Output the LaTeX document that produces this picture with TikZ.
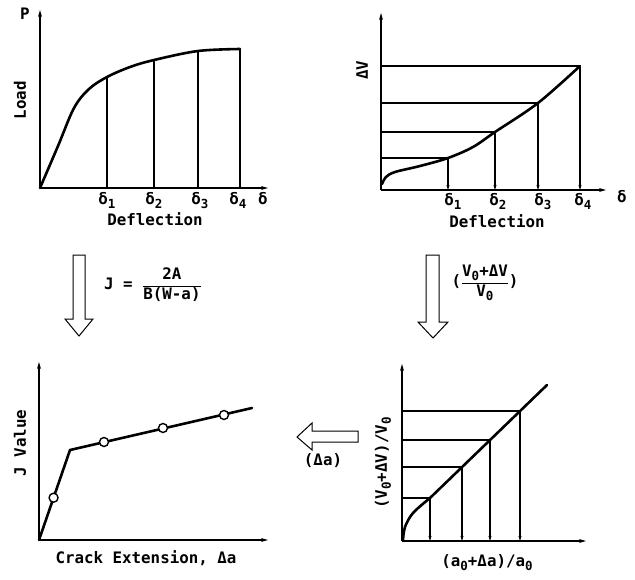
\documentclass[tikz,border=0pt]{standalone}
\usepackage{amsmath}
\usepackage{fontspec}
\setmainfont{DejaVu Sans Mono}
\usepackage{tikz}
\usetikzlibrary{positioning,arrows.meta,calc}
\newcommand{\idx}[1]{\raisebox{-0.45ex}{\fontsize{12.5}{13}\selectfont #1}}

\begin{document}
\begin{tikzpicture}[x=1pt, y=-1pt,
  axis/.style={line width=1.6pt, -{Stealth[length=7pt, width=4pt]}},
  curve/.style={line width=2.6pt, line cap=round, line join=round},
  thinln/.style={line width=1.1pt},
  drop/.style={line width=1.1pt, -{Stealth[length=5pt, width=3pt]}},
  bigarr/.style={line width=1pt, line join=miter},
  lbl/.style={font=\fontsize{15.8}{18}\selectfont\bfseries, inner sep=0pt},
  dlbl/.style={font=\fontsize{15.8}{18}\selectfont\bfseries, inner sep=0pt, anchor=north},
  dot/.style={circle, draw, line width=1.4pt, fill=white, minimum size=9pt, inner sep=0pt}]
\useasboundingbox (0,0) rectangle (635,579);
% load versus deflection
\coordinate (o1) at (40,188);
\draw[axis] (o1) -- (40,10);
\draw[axis] (o1) -- (268,188);
\node[lbl] (p) at (25,14) {P};
\node[lbl, rotate=90] (load) at (20,100) {Load};
\coordinate (l1) at (107,77);
\coordinate (l2) at (154,60);
\coordinate (l3) at (198,51);
\coordinate (l4) at (240,49);
\draw[curve] plot[smooth, tension=0.55] coordinates {(40,188) (58,146) (74,108) (89,89) (107,77) (130,67) (154,60) (198,51) (240,49)};
\foreach \i in {1,...,4} \draw[thinln] (l\i) -- (l\i |- o1);
\node[dlbl] (d1) at (107,192) {δ\idx{1}};
\node[dlbl] (d2) at (154,192) {δ\idx{2}};
\node[dlbl] (d3) at (200,192) {δ\idx{3}};
\node[dlbl] (d4) at (238,192) {δ\idx{4}};
\node[dlbl] (dd) at (263,192) {δ};
\node[lbl] (defl1) at (155,219) {Deflection};
% volume change versus deflection
\coordinate (o2) at (381,190);
\draw[axis] (o2) -- (381,13);
\draw[axis] (o2) -- (606,190);
\node[lbl, rotate=90] (dv) at (362,70) {ΔV};
\coordinate (v1) at (448,158);
\coordinate (v2) at (495,132);
\coordinate (v3) at (538,103);
\coordinate (v4) at (580,66);
\draw[curve] plot[smooth, tension=0.55] coordinates {(382,184) (386,177) (395,172) (420,166) (448,158) (473,147) (495,132) (538,103) (580,66)};
\foreach \i in {1,...,4} {
  \draw[thinln] (v\i -| o2) -- (v\i);
  \draw[drop] (v\i) -- (v\i |- o2);
}
\node[dlbl] (e1) at (453,193) {δ\idx{1}};
\node[dlbl] (e2) at (498,193) {δ\idx{2}};
\node[dlbl] (e3) at (543,193) {δ\idx{3}};
\node[dlbl] (e4) at (583,193) {δ\idx{4}};
\node[dlbl] (ee) at (622,190) {δ};
\node[lbl] (defl2) at (497,221) {Deflection};
% transfer arrows
\draw[bigarr] (73,255) -- (85,255) -- (85,319) -- (93,319) -- (79,336) -- (65,319) -- (73,319) -- cycle;
\node[lbl, anchor=west] (jeq) at (104,285) {J = $\dfrac{\text{\bfseries 2A}}{\text{\bfseries B(W-a)}}$};
\draw[bigarr] (426,255) -- (439,255) -- (439,322) -- (448,322) -- (433,338) -- (418,322) -- (426,322) -- cycle;
\node[lbl] (veq) at (485,283) {($\dfrac{\text{\bfseries V\idx{0}+ΔV}}{\text{\bfseries V\idx{0}}}$)};
\draw[bigarr] (358,431) -- (358,442) -- (312,442) -- (312,450) -- (297,437) -- (312,423) -- (312,431) -- cycle;
\node[lbl] (da) at (323,461) {(Δa)};
% J resistance curve
\coordinate (o3) at (39,540);
\coordinate (k) at (70,450);
\coordinate (jend) at (252,408);
\draw[axis] (o3) -- (39,362);
\draw[axis] (o3) -- (268,540);
\node[lbl, rotate=90] (jv) at (20,443) {J Value};
\draw[curve] (o3) -- (k) -- (jend);
\node[dot] (c1) at ($(o3)!0.47!(k)$) {};
\node[dot] (c2) at (104,442) {};
\node[dot] (c3) at (163,428) {};
\node[dot] (c4) at (224,415) {};
\node[lbl] (crack) at (146,558) {Crack Extension, Δa};
% volume ratio versus crack length ratio
\coordinate (o4) at (402,541);
\draw[axis] (o4) -- (402,364);
\draw[axis] (o4) -- (586,541);
\node[lbl, rotate=90] (vr) at (383,463) {(V\idx{0}+ΔV)/V\idx{0}};
\coordinate (r1) at (430,498);
\coordinate (r2) at (462,467);
\coordinate (r3) at (490,440);
\coordinate (r4) at (520,411);
\draw[curve] plot[smooth, tension=0.55] coordinates {(403,540) (405,527) (413,513) (430,498)} -- (547,385);
\foreach \i in {1,...,4} {
  \draw[thinln] (r\i -| o4) -- (r\i);
  \draw[drop] (r\i) -- (r\i |- o4);
}
\node[lbl] (ar) at (487,563) {(a\idx{0}+Δa)/a\idx{0}};
\end{tikzpicture}
\end{document}
